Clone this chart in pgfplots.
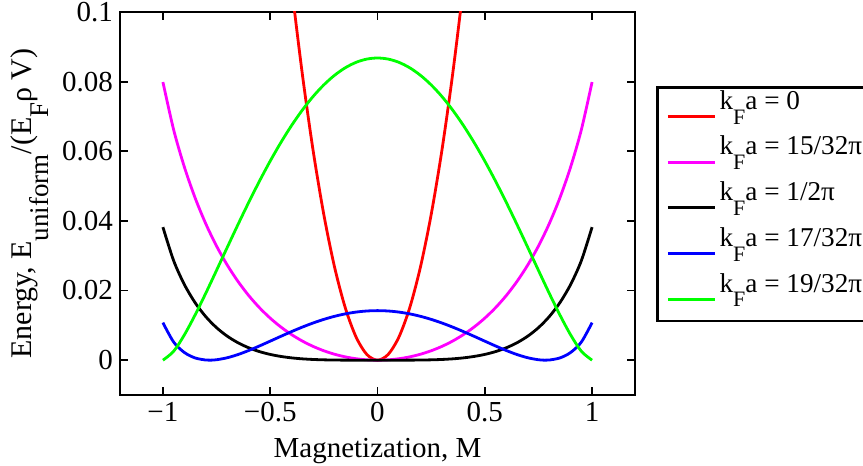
\documentclass[border=0pt]{standalone}
\usepackage{fontspec}
\setmainfont{Liberation Serif}
\usepackage{pgfplots}
\pgfplotsset{compat=1.18}
\definecolor{mag}{rgb}{1,0,1}
\definecolor{grn}{rgb}{0,1,0}
\definecolor{rd}{rgb}{1,0,0}
\definecolor{bl}{rgb}{0,0,1}
\newcommand{\subs}[2]{\raisebox{-0.55em}{\fontsize{#1}{#1}\selectfont #2}}
\newcommand{\lsub}[1]{\subs{11}{#1}}
\begin{document}
\begin{tikzpicture}
\useasboundingbox (-60pt,-35.5pt) rectangle (371.5pt,197.5pt);
\begin{axis}[
  scale only axis, width=257.5pt, height=191.5pt,
  xmin=-1.2, xmax=1.2, ymin=-0.01, ymax=0.1,
  xtick={-1,-0.5,0,0.5,1}, xticklabels={−1,−0.5,0,0.5,1},
  ytick={0,0.02,0.04,0.06,0.08,0.1}, yticklabels={0,0.02,0.04,0.06,0.08,0.1},
  scaled y ticks=false,
  tick align=inside, tick pos=both, major tick length=4pt,
  every tick/.style={black, line width=0.9pt},
  axis line style={line width=1.3pt},
  tick label style={font=\fontsize{14.5}{16}\selectfont},
  label style={font=\fontsize{14.5}{16}\selectfont},
  xlabel={Magnetization, M},
  xlabel style={yshift=-1.5pt},
  ylabel={Energy, E\subs{13.5}{uniform}/(E\subs{13.5}{F}ρ V)},
  ylabel style={font=\fontsize{15}{16}\selectfont},
  legend cell align=left,
  legend style={at={(1.041,0.807)}, anchor=north west, draw=black, line width=1.4pt,
    inner sep=1.33pt, font=\fontsize{13.6}{16}\selectfont,
    /tikz/column sep=0pt, /tikz/row sep=0pt,
    nodes={inner sep=0pt, text height=9.67pt, text depth=13.17pt}},
  legend image code/.code={\path (0pt,0pt) (28.3pt,0pt); \draw[#1,line width=1.4pt] (3.2pt,-1.85pt) -- (26.7pt,-1.85pt);},
  every axis plot/.append style={line width=1.4pt, smooth},
]
\addplot[rd] coordinates {(-0.45,0.136071)(-0.4,0.107327)(-0.35,0.082050)(-0.3,0.060205)(-0.25,0.041765)(-0.2,0.026707)(-0.15,0.015013)(-0.1,0.006669)(-0.05,0.001667)(0,0)(0.05,0.001667)(0.1,0.006669)(0.15,0.015013)(0.2,0.026707)(0.25,0.041765)(0.3,0.060205)(0.35,0.082050)(0.4,0.107327)(0.45,0.136071)};
\addlegendentry{k\lsub{F}a = 0}
\addplot[mag] coordinates {(-1,0.079881)(-0.95,0.066185)(-0.9,0.055481)(-0.85,0.046622)(-0.8,0.039145)(-0.75,0.032772)(-0.7,0.027306)(-0.65,0.022604)(-0.6,0.018554)(-0.55,0.015067)(-0.5,0.012072)(-0.45,0.009508)(-0.4,0.007327)(-0.35,0.005487)(-0.3,0.003955)(-0.25,0.002702)(-0.2,0.001707)(-0.15,0.000950)(-0.1,0.000419)(-0.05,0.000104)(0,0)(0.05,0.000104)(0.1,0.000419)(0.15,0.000950)(0.2,0.001707)(0.25,0.002702)(0.3,0.003955)(0.35,0.005487)(0.4,0.007327)(0.45,0.009508)(0.5,0.012072)(0.55,0.015067)(0.6,0.018554)(0.65,0.022604)(0.7,0.027306)(0.75,0.032772)(0.8,0.039145)(0.85,0.046622)(0.9,0.055481)(0.95,0.066185)(1,0.079881)};
\addlegendentry{k\lsub{F}a = 15/32π}
\addplot[black] coordinates {(-1,0.038214)(-0.95,0.028580)(-0.9,0.021731)(-0.85,0.016517)(-0.8,0.012478)(-0.75,0.009334)(-0.7,0.006889)(-0.65,0.004999)(-0.6,0.003554)(-0.55,0.002463)(-0.5,0.001655)(-0.45,0.001071)(-0.4,0.000660)(-0.35,0.000383)(-0.3,0.000205)(-0.25,0.000098)(-0.2,0.000040)(-0.15,0.000013)(-0.1,0.0000025)(-0.05,0)(0,0)(0.05,0)(0.1,0.0000025)(0.15,0.000013)(0.2,0.000040)(0.25,0.000098)(0.3,0.000205)(0.35,0.000383)(0.4,0.000660)(0.45,0.001071)(0.5,0.001655)(0.55,0.002463)(0.6,0.003554)(0.65,0.004999)(0.7,0.006889)(0.75,0.009334)(0.8,0.012478)(0.85,0.016517)(0.9,0.021731)(0.95,0.028580)(1,0.038214)};
\addlegendentry{k\lsub{F}a = 1/2π}
\addplot[bl] coordinates {(-1,0.010776)(-0.95,0.005204)(-0.9,0.002209)(-0.85,0.000641)(-0.8,0.000040)(-0.78,0.000003)(-0.75,0.000125)(-0.7,0.000701)(-0.65,0.001623)(-0.6,0.002782)(-0.55,0.004087)(-0.5,0.005467)(-0.45,0.006861)(-0.4,0.008222)(-0.35,0.009507)(-0.3,0.010683)(-0.25,0.011722)(-0.2,0.012601)(-0.15,0.013303)(-0.1,0.013814)(-0.05,0.014124)(0,0.014228)(0.05,0.014124)(0.1,0.013814)(0.15,0.013303)(0.2,0.012601)(0.25,0.011722)(0.3,0.010683)(0.35,0.009507)(0.4,0.008222)(0.45,0.006861)(0.5,0.005467)(0.55,0.004087)(0.6,0.002782)(0.65,0.001623)(0.7,0.000701)(0.75,0.000125)(0.78,0.000003)(0.8,0.000040)(0.85,0.000641)(0.9,0.002209)(0.95,0.005204)(1,0.010776)};
\addlegendentry{k\lsub{F}a = 17/32π}
\addplot[grn] coordinates {(-1,0)(-0.95,0.002554)(-0.9,0.007267)(-0.85,0.012991)(-0.8,0.019264)(-0.75,0.025808)(-0.7,0.032425)(-0.65,0.038973)(-0.6,0.045340)(-0.55,0.051436)(-0.5,0.057191)(-0.45,0.062544)(-0.4,0.067446)(-0.35,0.071856)(-0.3,0.075741)(-0.25,0.079072)(-0.2,0.081826)(-0.15,0.083986)(-0.1,0.085539)(-0.05,0.086474)(0,0.086786)(0.05,0.086474)(0.1,0.085539)(0.15,0.083986)(0.2,0.081826)(0.25,0.079072)(0.3,0.075741)(0.35,0.071856)(0.4,0.067446)(0.45,0.062544)(0.5,0.057191)(0.55,0.051436)(0.6,0.045340)(0.65,0.038973)(0.7,0.032425)(0.75,0.025808)(0.8,0.019264)(0.85,0.012991)(0.9,0.007267)(0.95,0.002554)(1,0)};
\addlegendentry{k\lsub{F}a = 19/32π}
\end{axis}
\end{tikzpicture}
\end{document}
